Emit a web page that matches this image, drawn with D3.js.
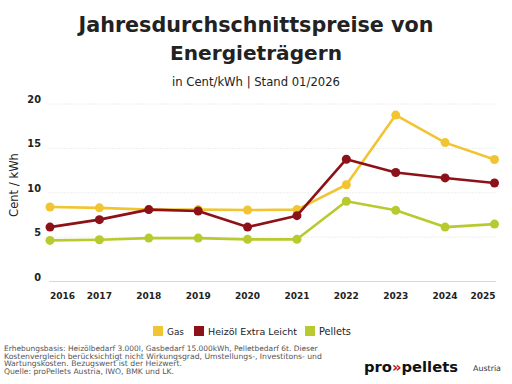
<!DOCTYPE html>
<html><head><meta charset="utf-8">
<script src="https://cdn.jsdelivr.net/npm/d3@7"></script>
<style>body{margin:0;background:#fff}svg{display:block}</style>
</head><body>
<svg id="c" width="512" height="384"></svg>
<script>
const years = ["2016","2017","2018","2019","2020","2021","2022","2023","2024","2025"];
const gas = [8.4, 8.3, 8.1, 8.1, 8.05, 8.1, 10.9, 18.75, 15.65, 13.75];
const heizoel = [6.13, 6.97, 8.1, 7.94, 6.13, 7.42, 13.78, 12.28, 11.67, 11.1];
const pellets = [4.63, 4.71, 4.89, 4.89, 4.75, 4.75, 9.04, 8.02, 6.13, 6.47];
const yTicks = [0, 5, 10, 15, 20];
const seriesNames = ["Gas", "Heizöl Extra Leicht", "Pellets"];
const seriesColors = ["#F1C532", "#8C1118", "#B8CA2E"];
const seriesData = [gas, heizoel, pellets];

const F = "'DejaVu Sans', sans-serif";
const svg = d3.select("#c");

function fit(sel, w) {
  const n = sel.node();
  const cur = n.getComputedTextLength();
  const fs = parseFloat(sel.attr("font-size"));
  sel.attr("font-size", (fs * w / cur).toFixed(2));
  return sel;
}

// Title
fit(svg.append("text").attr("x", 256).attr("y", 32).attr("text-anchor", "middle")
  .attr("font-family", F).attr("font-weight", "bold").attr("font-size", 20).attr("fill", "#222")
  .text("Jahresdurchschnittspreise von"), 355);
fit(svg.append("text").attr("x", 256).attr("y", 60).attr("text-anchor", "middle")
  .attr("font-family", F).attr("font-weight", "bold").attr("font-size", 20).attr("fill", "#222")
  .text("Energieträgern"), 172);
fit(svg.append("text").attr("x", 256).attr("y", 86).attr("text-anchor", "middle")
  .attr("font-family", F).attr("font-size", 11).attr("fill", "#222")
  .text("in Cent/kWh | Stand 01/2026"), 168);

const x = d3.scalePoint().domain(years).range([50, 494.5]);
const y = d3.scaleLinear().domain([0, 20]).range([281.5, 104]);

// gridlines
svg.append("g").selectAll("line").data(yTicks).join("line")
  .attr("x1", 49).attr("x2", 496)
  .attr("y1", d => y(d)).attr("y2", d => y(d))
  .attr("stroke", d => d === 0 ? "#d8d8d8" : "#eeeeee")
  .attr("stroke-width", d => d === 0 ? 1.2 : 1)
  .attr("stroke-dasharray", d => d === 0 ? null : "2,1");

// y axis labels
svg.append("g").selectAll("text").data(yTicks).join("text")
  .attr("x", 41).attr("y", d => y(d) - 1).attr("text-anchor", "end")
  .attr("font-family", F).attr("font-weight", "bold").attr("font-size", 9.8).attr("fill", "#222")
  .text(d => d);

fit(svg.append("text").attr("transform", "translate(18,185) rotate(-90)").attr("text-anchor", "middle")
  .attr("font-family", F).attr("font-size", 11.5).attr("fill", "#222").text("Cent / kWh"), 64);

// x axis labels
svg.append("g").selectAll("text").data(years).join("text")
  .attr("x", (d, i) => i === 0 ? x(d) : i === years.length - 1 ? x(d) + 1 : x(d))
  .attr("y", 299)
  .attr("text-anchor", (d, i) => i === 0 ? "start" : i === years.length - 1 ? "end" : "middle")
  .attr("font-family", F).attr("font-weight", "bold").attr("font-size", 9).attr("fill", "#222")
  .text(d => d);

// lines
const line = d3.line().x((d, i) => x(years[i])).y(d => y(d));
seriesData.forEach((s, k) => {
  const g = svg.append("g");
  g.append("path").datum(s).attr("d", line).attr("fill", "none")
    .attr("stroke", seriesColors[k]).attr("stroke-width", 2.6).attr("stroke-linejoin", "round");
  g.selectAll("circle").data(s).join("circle")
    .attr("cx", (d, i) => x(years[i])).attr("cy", d => y(d)).attr("r", 4.5)
    .attr("fill", seriesColors[k]);
});

// legend
const legX = [153, 194, 305];
const legW = [17, 89, 32];
const lg = svg.append("g");
seriesNames.forEach((n, k) => {
  lg.append("rect").attr("x", legX[k]).attr("y", 326).attr("width", 10).attr("height", 10)
    .attr("fill", seriesColors[k]);
  fit(lg.append("text").attr("x", legX[k] + 14).attr("y", 335)
    .attr("font-family", F).attr("font-size", 9.5).attr("fill", "#222").text(n), legW[k]);
});

// footnote
const foot = [
  "Erhebungsbasis: Heizölbedarf 3.000l, Gasbedarf 15.000kWh, Pelletbedarf 6t. Dieser",
  "Kostenvergleich berücksichtigt nicht Wirkungsgrad, Umstellungs-, Investitons- und",
  "Wartungskosten. Bezugswert ist der Heizwert.",
  "Quelle: proPellets Austria, IWO, BMK und LK."
];
const fw = [314, 318, 178, 170];
foot.forEach((t, i) => {
  fit(svg.append("text").attr("x", 4).attr("y", 351 + i * 7.5)
    .attr("font-family", F).attr("font-size", 7).attr("fill", "#555").text(t), fw[i]);
});

// logo
const logo = svg.append("text").attr("x", 364).attr("y", 372)
  .attr("font-family", F).attr("font-weight", "bold").attr("font-size", 19).attr("fill", "#111");
logo.append("tspan").text("pro");
logo.append("tspan").attr("fill", "#C0141C").text("»");
logo.append("tspan").text("pellets");
fit(logo, 94);
fit(svg.append("text").attr("x", 473).attr("y", 371)
  .attr("font-family", F).attr("font-size", 7.5).attr("fill", "#333").text("Austria"), 28);
</script>
</body></html>
